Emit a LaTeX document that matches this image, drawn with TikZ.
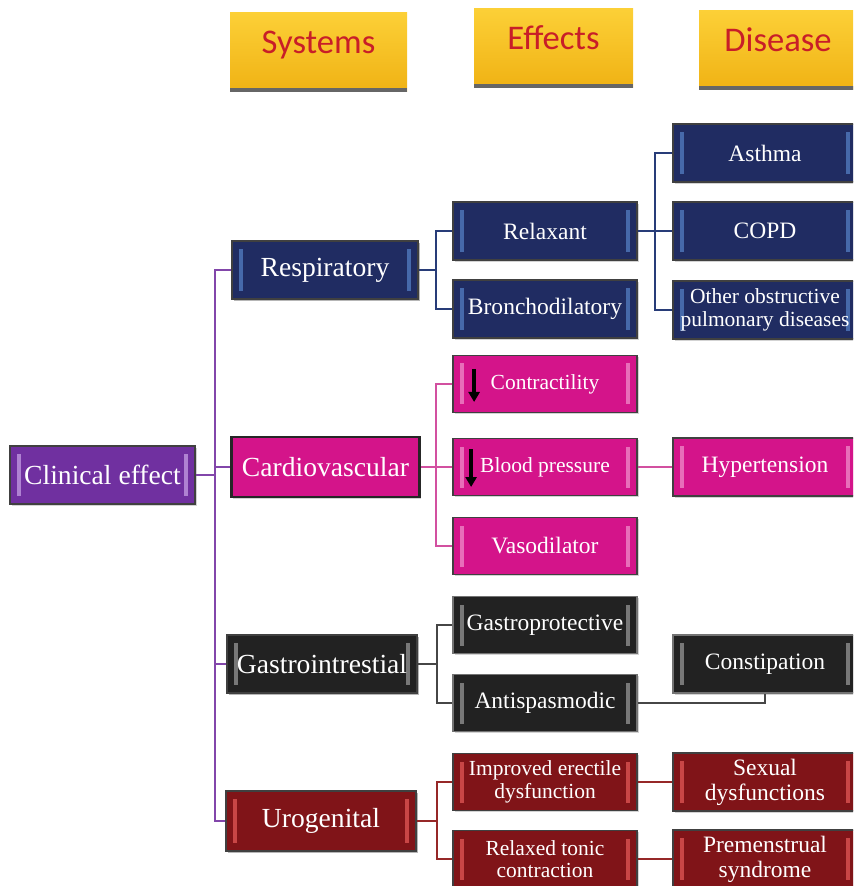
\documentclass[tikz,border=0pt]{standalone}
\usepackage{fontspec}
\setmainfont{Liberation Serif}
\newfontfamily\headfont{Carlito}
\usetikzlibrary{shadows,arrows.meta}
\definecolor{root}{RGB}{112,48,160}
\definecolor{resp}{RGB}{32,44,98}
\definecolor{cardio}{RGB}{212,20,138}
\definecolor{gastro}{RGB}{34,34,34}
\definecolor{uro}{RGB}{128,20,24}
\definecolor{rootlite}{RGB}{175,130,210}
\definecolor{resplite}{RGB}{70,105,170}
\definecolor{cardlite}{RGB}{232,110,185}
\definecolor{gastlite}{RGB}{120,120,120}
\definecolor{urolite}{RGB}{200,70,70}
\definecolor{headtop}{RGB}{252,208,55}
\definecolor{headbot}{RGB}{240,178,20}
\definecolor{headtext}{RGB}{200,30,40}
\definecolor{rootline}{RGB}{130,70,170}
\definecolor{respline}{RGB}{40,60,120}
\definecolor{cardline}{RGB}{210,80,160}
\definecolor{gastline}{RGB}{70,70,70}
\definecolor{uroline}{RGB}{150,40,40}
\tikzset{
  cell/.style={rectangle, draw=black!75, line width=0.9pt, text=white, align=center,
    minimum width=92pt, minimum height=29pt, inner sep=1pt,
    drop shadow={shadow xshift=0.8pt, shadow yshift=-0.8pt, opacity=0.35}},
  bevel/.style={path picture={
    \fill[#1] ([xshift=3.5pt,yshift=-4pt]path picture bounding box.north west)
      rectangle ([xshift=5.5pt,yshift=4pt]path picture bounding box.south west);
    \fill[#1] ([xshift=-3.5pt,yshift=-4pt]path picture bounding box.north east)
      rectangle ([xshift=-5.5pt,yshift=4pt]path picture bounding box.south east);}},
  big/.style={font=\fontsize{13.8}{15}\selectfont},
  mid/.style={font=\fontsize{11.75}{12.5}\selectfont},
  small/.style={font=\fontsize{10.75}{11.3}\selectfont},
  rootnode/.style={cell, big, fill=root, minimum width=92.5pt, bevel=rootlite},
  sysnode/.style={cell, big, minimum width=94pt},
  respnode/.style={cell, fill=resp, bevel=resplite},
  cardnode/.style={cell, fill=cardio, bevel=cardlite},
  gastnode/.style={cell, fill=gastro, draw=black!55, bevel=gastlite},
  uronode/.style={cell, fill=uro, bevel=urolite},
  headnode/.style={rectangle, top color=headtop, bottom color=headbot, text=headtext,
    font=\headfont\fontsize{17.3}{18}\selectfont, minimum height=39.5pt,
    text height=12.5pt, text depth=11pt,
    path picture={\draw[black!60, line width=3pt]
      (path picture bounding box.south west) -- (path picture bounding box.south east);}},
  link/.style={line width=1.2pt},
  downarr/.style={-{Triangle[width=5.5pt,length=5pt]}, line width=1.7pt, black},
}
\begin{document}
\begin{tikzpicture}[x=0.5pt, y=-0.5pt]
  \useasboundingbox (0,0) rectangle (853,886);
  \clip (0,0) rectangle (853,886);

  % --- column headers ---
  \node[headnode, minimum width=88.5pt] (hsys) at (318.5,52) {Systems};
  \node[headnode, minimum width=79.5pt] (heff) at (553.5,48) {Effects};
  \node[headnode, minimum width=79pt] (hdis) at (778,50) {Disease};

  % --- root ---
  \node[rootnode] (clin) at (102.5,475) {Clinical effect};

  % --- systems ---
  \node[respnode, sysnode, minimum width=93pt] (resp) at (325,270) {Respiratory};
  \node[sysnode, fill=cardio, draw=black!85, line width=1.3pt, minimum height=30pt] (cardio) at (325.5,467) {Cardiovascular};
  \node[gastnode, sysnode, minimum width=95pt] (gastro) at (322,664) {Gastrointrestial};
  \node[uronode, sysnode, minimum width=95pt, minimum height=30pt] (uro) at (321,821) {Urogenital};

  % --- effects ---
  \node[respnode, mid] (relax) at (545,231) {Relaxant};
  \node[respnode, mid] (bronch) at (545,309) {Bronchodilatory};
  \node[cardnode, small, minimum height=28.5pt] (contr) at (545,384) {Contractility};
  \node[cardnode, small, minimum height=28.5pt] (bp) at (545,467) {Blood pressure};
  \node[cardnode, mid, minimum height=28.5pt] (vaso) at (545,546) {Vasodilator};
  \node[gastnode, mid, minimum height=28.5pt] (gprot) at (545,625) {Gastroprotective};
  \node[gastnode, mid, minimum height=28.5pt] (anti) at (545,703) {Antispasmodic};
  \node[uronode, small, minimum height=28.5pt] (erect) at (545,782) {Improved erectile\\dysfunction};
  \node[uronode, small, minimum height=28.5pt] (tonic) at (545,859) {Relaxed tonic\\contraction};

  % --- diseases ---
  \node[respnode, mid] (asthma) at (765,153) {Asthma};
  \node[respnode, mid] (copd) at (765,231) {COPD};
  \node[respnode, small] (other) at (765,310) {Other obstructive\\pulmonary diseases};
  \node[cardnode, mid] (hyper) at (765,467) {Hypertension};
  \node[gastnode, mid] (const) at (765,664) {Constipation};
  \node[uronode, mid] (sexual) at (765,782) {Sexual\\dysfunctions};
  \node[uronode, mid] (pms) at (765,859) {Premenstrual\\syndrome};

  % --- down arrows inside cardio effects ---
  \draw[downarr] ([xshift=11pt,yshift=7.5pt]contr.west) -- ([xshift=11pt,yshift=-9pt]contr.west);
  \draw[downarr] ([xshift=9.5pt,yshift=9pt]bp.west) -- ([xshift=9.5pt,yshift=-10pt]bp.west);

  % --- branch points ---
  \coordinate (tr) at (215,475);
  \coordinate (rb) at (436,270);
  \coordinate (db) at (655,231);
  \coordinate (cb) at (436,467);
  \coordinate (gb) at (437,664);
  \coordinate (ub) at (437,821);

  % --- connectors ---
  \draw[link, rootline] (clin.east) -- (tr);
  \draw[link, rootline] (resp.west) -| (tr) |- (uro.west);
  \draw[link, rootline] (tr) |- (cardio.west);
  \draw[link, rootline] (tr) |- (gastro.west);

  \draw[link, respline] (resp.east) -- (rb);
  \draw[link, respline] (relax.west) -| (rb) |- (bronch.west);
  \draw[link, respline] (relax.east) -- (copd.west);
  \draw[link, respline] (asthma.west) -| (db) |- (other.west);

  \draw[link, cardline] (cardio.east) -- (cb);
  \draw[link, cardline] (contr.west) -| (cb) |- (vaso.west);
  \draw[link, cardline] (cb) -- (bp.west);
  \draw[link, cardline] (bp.east) -- (hyper.west);

  \draw[link, gastline] (gastro.east) -- (gb);
  \draw[link, gastline] (gprot.west) -| (gb) |- (anti.west);
  \draw[link, gastline] (anti.east) -| (const.south);

  \draw[link, uroline] (uro.east) -- (ub);
  \draw[link, uroline] (erect.west) -| (ub) |- (tonic.west);
  \draw[link, uroline] (erect.east) -- (sexual.west);
  \draw[link, uroline] (tonic.east) -- (pms.west);
\end{tikzpicture}
\end{document}
